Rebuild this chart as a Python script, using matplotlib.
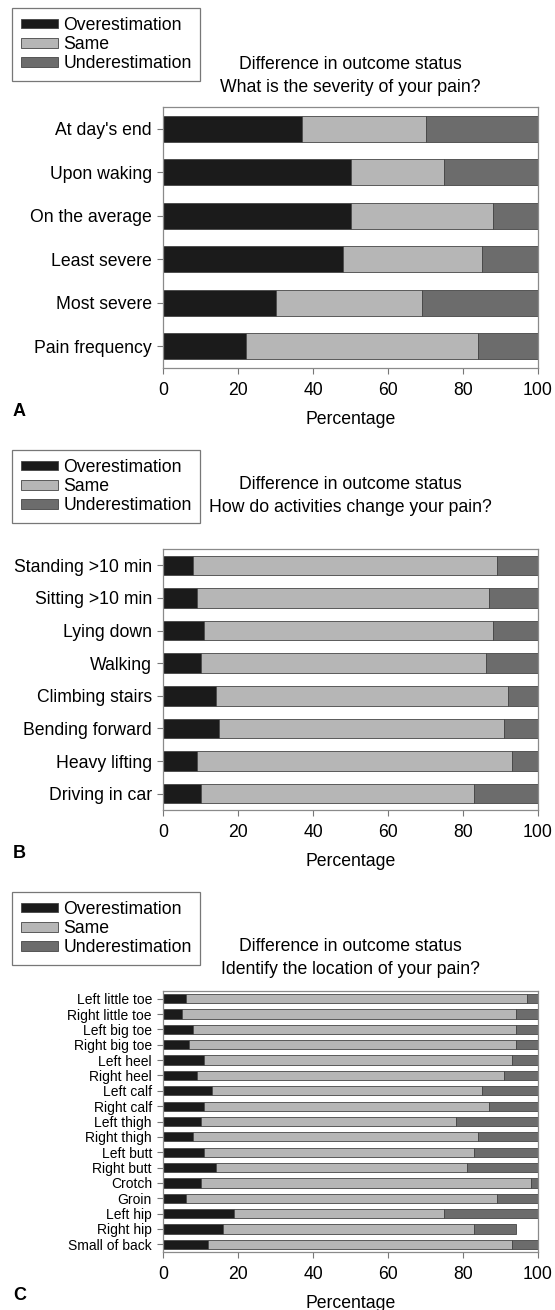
import numpy as np
import matplotlib.pyplot as plt

plt.rcParams['font.family'] = ['Liberation Sans', 'DejaVu Sans']
plt.rcParams['font.size'] = 12.7

series = ['Overestimation', 'Same', 'Underestimation']
colors = ['#1b1b1b', '#b6b6b6', '#6c6c6c']

# A: severity of pain
severity_items = ["At day's end", 'Upon waking', 'On the average',
                  'Least severe', 'Most severe', 'Pain frequency']
severity_over = [37, 50, 50, 48, 30, 22]
severity_same = [33, 25, 38, 37, 39, 62]
severity_under = [30, 25, 12, 15, 31, 16]

# B: activities
activity_items = ['Standing >10 min', 'Sitting >10 min', 'Lying down', 'Walking',
                  'Climbing stairs', 'Bending forward', 'Heavy lifting', 'Driving in car']
activity_over = [8, 9, 11, 10, 14, 15, 9, 10]
activity_same = [81, 78, 77, 76, 78, 76, 84, 73]
activity_under = [11, 13, 12, 14, 8, 9, 7, 17]

# C: pain location
location_items = ['Left little toe', 'Right little toe', 'Left big toe', 'Right big toe',
                  'Left heel', 'Right heel', 'Left calf', 'Right calf', 'Left thigh',
                  'Right thigh', 'Left butt', 'Right butt', 'Crotch', 'Groin',
                  'Left hip', 'Right hip', 'Small of back']
location_over = [6, 5, 8, 7, 11, 9, 13, 11, 10, 8, 11, 14, 10, 6, 19, 16, 12]
location_same = [91, 89, 86, 87, 82, 82, 72, 76, 68, 76, 72, 67, 88, 83, 56, 67, 81]
location_under = [3, 6, 6, 6, 7, 9, 15, 13, 22, 16, 17, 19, 2, 11, 25, 11, 7]

W, H = 555, 1310
fig = plt.figure(figsize=(W / 100, H / 100), dpi=100)


def draw_panel(top, items, over, same, under, question, title_pad, label_size, letter):
    # top = pixel row of the legend box; the axes sit 99 px below it
    ax = fig.add_axes([163 / W, 1 - (top + 360) / H, 375 / W, 261 / H])
    y = np.arange(len(items))
    left = np.zeros(len(items))
    for vals, name, c in zip([over, same, under], series, colors):
        ax.barh(y, vals, left=left, height=0.6, color=c,
                edgecolor='#454545', linewidth=0.6, label=name)
        left = left + np.array(vals)
    ax.set_ylim(len(items) - 0.5, -0.5)
    ax.set_yticks(y, items, fontsize=label_size)
    ax.set_xlim(0, 100)
    ax.set_xticks(range(0, 101, 20))
    ax.tick_params(direction='out', length=4, width=0.8, color='#777777')
    ax.tick_params(axis='x', pad=6)
    ax.tick_params(axis='y', pad=4)
    for s in ax.spines.values():
        s.set_color('#8a8a8a')
        s.set_linewidth(0.9)
    ax.set_xlabel('Percentage', labelpad=9)
    ax.set_title('Difference in outcome status\n' + question,
                 pad=title_pad, fontsize=12.7, linespacing=1.45)
    leg = ax.legend(loc='upper left', bbox_to_anchor=(12 / W, 1 - top / H),
                    bbox_transform=fig.transFigure, borderaxespad=0,
                    fancybox=False, framealpha=1, edgecolor='#777777',
                    borderpad=0.5, handlelength=2.1, handleheight=0.45,
                    handletextpad=0.3, labelspacing=0.13)
    leg.get_frame().set_linewidth(0.9)
    fig.text(13 / W, 1 - (top + 404) / H, letter, fontweight='bold',
             fontsize=13, va='center', ha='left')
    return ax


draw_panel(8, severity_items, severity_over, severity_same, severity_under,
           'What is the severity of your pain?', 11, 12.7, 'A')
draw_panel(450, activity_items, activity_over, activity_same, activity_under,
           'How do activities change your pain?', 27, 12.7, 'B')
draw_panel(892, location_items, location_over, location_same, location_under,
           'Identify the location of your pain?', 12, 10, 'C')

fig.savefig('out.png', dpi=100)
